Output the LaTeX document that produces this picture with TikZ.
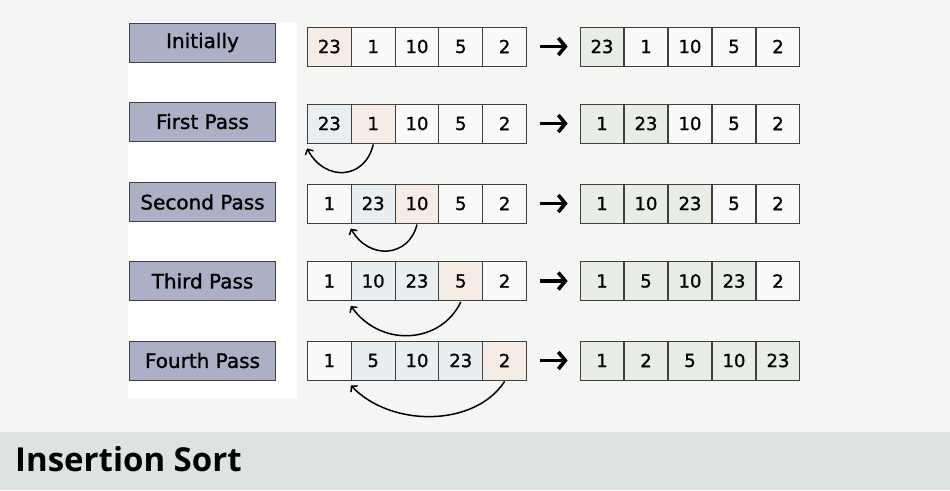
\documentclass[tikz,border=0pt]{standalone}
\usepackage{fontspec}
\setmainfont{Open Sans}
\newfontfamily\cellfont{DejaVu Sans}[FakeBold=1.2]
\usetikzlibrary{positioning,arrows.meta}

\definecolor{pagebg}{RGB}{245,245,244}
\definecolor{barbg}{RGB}{221,228,223}
\definecolor{labelfill}{RGB}{171,176,199}
\definecolor{plaincell}{RGB}{250,250,250}
\definecolor{keycell}{RGB}{245,236,230}
\definecolor{shiftcell}{RGB}{233,239,241}
\definecolor{donecell}{RGB}{232,238,230}

\begin{document}
\begin{tikzpicture}
  [x=1pt,y=-1pt,
   every node/.style={font=\cellfont\fontsize{18}{20}\selectfont, text=black},
   passlabel/.style={rectangle,draw=black!75,line width=0.9pt,fill=labelfill,
                     minimum width=146pt,minimum height=39pt,inner sep=0pt,
                     font=\cellfont\fontsize{20}{22}\selectfont},
   cell/.style={rectangle,draw=black!75,line width=0.9pt,fill=plaincell,
                minimum width=43.8pt,minimum height=39pt,inner sep=0pt},
   bigarrow/.style={line width=3.6pt,-{Straight Barb[length=7pt,width=17pt]},
                    shorten <=13pt,shorten >=12pt},
   swaparrow/.style={line width=1.5pt,-{Straight Barb[length=4pt,width=9pt]}}]

  % background, white panel and title bar
  \fill[pagebg] (0,0) rectangle (950,490);
  \fill[white] (128,22) rectangle (297,398);
  \fill[barbg] (0,432) rectangle (950,490);
  \node[anchor=west,inner sep=0pt,font=\fontsize{33}{36}\selectfont\bfseries] (title) at (15,459) {Insertion Sort};

  % one row per pass: label, array before, array after
  \foreach \row/\ly/\ay/\name/\lvals/\rvals in {
    1/42.5/46.5/Initially/{23/keycell,1/plaincell,10/plaincell,5/plaincell,2/plaincell}/{23/donecell,1/plaincell,10/plaincell,5/plaincell,2/plaincell},
    2/121.5/123.5/First Pass/{23/shiftcell,1/keycell,10/plaincell,5/plaincell,2/plaincell}/{1/donecell,23/donecell,10/plaincell,5/plaincell,2/plaincell},
    3/202/203.5/Second Pass/{1/plaincell,23/shiftcell,10/keycell,5/plaincell,2/plaincell}/{1/donecell,10/donecell,23/donecell,5/plaincell,2/plaincell},
    4/281/281/Third Pass/{1/plaincell,10/shiftcell,23/shiftcell,5/keycell,2/plaincell}/{1/donecell,5/donecell,10/donecell,23/donecell,2/plaincell},
    5/360.5/360.5/Fourth Pass/{1/plaincell,5/shiftcell,10/shiftcell,23/shiftcell,2/keycell}/{1/donecell,2/donecell,5/donecell,10/donecell,23/donecell}}
  {
    \node[passlabel] (lab\row) at (202.5,\ly) {\name};
    \foreach \v/\c [count=\i] in \lvals
      \node[cell,fill=\c] (l\row c\i) at (329.4+43.8*\i-43.8,\ay) {\v};
    \foreach \v/\c [count=\i] in \rvals
      \node[cell,fill=\c] (r\row c\i) at (602+44*\i-44,\ay) {\v};
    \draw[bigarrow] (l\row c5.east) -- (r\row c1.west);
  }

  % where the key is inserted
  \draw[swaparrow] ([yshift=-1pt]l2c2.south) .. controls +(-8,35) and +(18,34) .. ([yshift=-5pt]l2c1.south west);
  \draw[swaparrow] ([yshift=-1pt]l3c3.south) .. controls +(-8,33) and +(18,32) .. ([yshift=-5pt]l3c2.south west);
  \draw[swaparrow] ([yshift=-1pt]l4c4.south) .. controls +(-20,42) and +(30,42) .. ([yshift=-5pt]l4c2.south west);
  \draw[swaparrow] ([yshift=-1pt]l5c5.south) .. controls +(-30,46) and +(40,42) .. ([yshift=-5pt]l5c2.south west);

  \useasboundingbox (0,0) rectangle (950,490);
\end{tikzpicture}
\end{document}
